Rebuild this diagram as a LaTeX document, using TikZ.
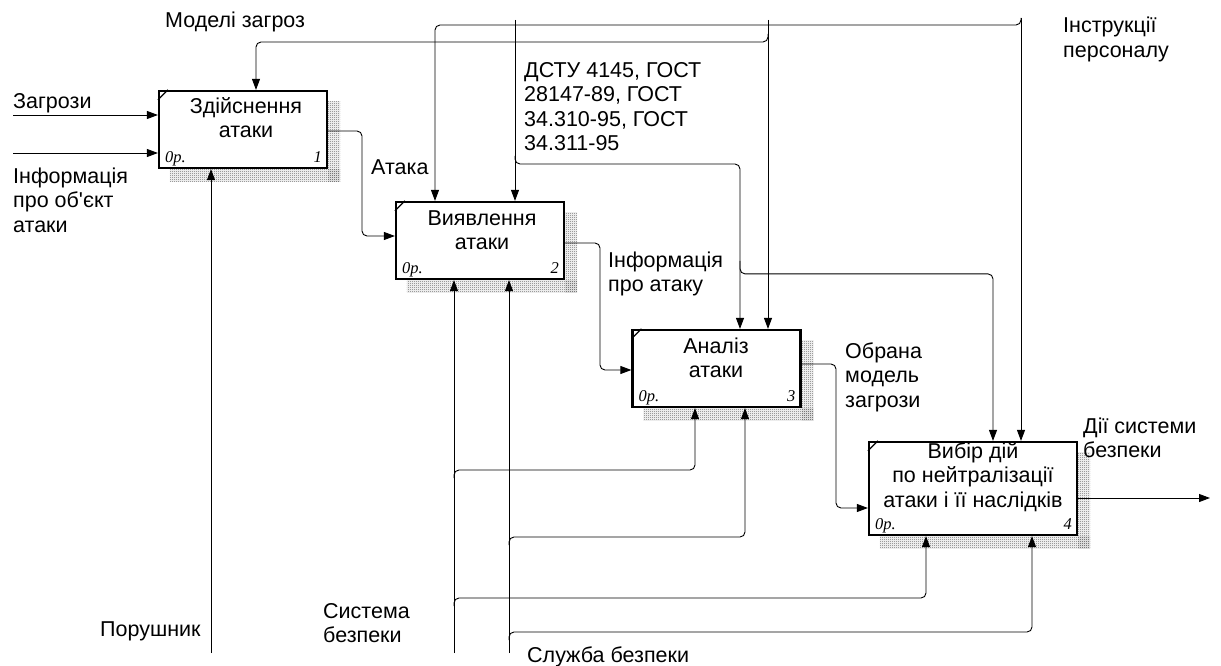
\documentclass[tikz,border=0pt]{standalone}
\usepackage{fontspec}
\setmainfont{Liberation Sans}
\newfontfamily\costfont{Liberation Serif}
\usetikzlibrary{arrows.meta,calc,patterns,backgrounds}

% fine checkerboard used for the block shadows
\pgfdeclarepatternformonly{checker}{\pgfpointorigin}{\pgfqpoint{2pt}{2pt}}{\pgfqpoint{2pt}{2pt}}{
  \pgfpathrectangle{\pgfpointorigin}{\pgfqpoint{1pt}{1pt}}
  \pgfpathrectangle{\pgfqpoint{1pt}{1pt}}{\pgfqpoint{1pt}{1pt}}
  \pgfusepath{fill}}

\begin{document}
\begin{tikzpicture}[x=1pt,y=-1pt,
  font=\fontsize{21.5}{24.5}\selectfont,
  func/.style={draw=black, line width=2.2pt, fill=white, inner sep=0pt},
  arr/.style={draw=black, line width=0.9pt, -{Triangle[length=11pt,width=8pt]}},
  rc/.style={rounded corners=5pt},
  % multi-line nodes: the base anchor sits on the last line
  lbl/.style={align=left, anchor=base west, inner sep=0pt},
  ftext/.style={align=center, anchor=base, inner sep=0pt},
  cost/.style={font=\costfont\itshape\fontsize{16.5}{16.5}\selectfont, anchor=base west, inner sep=0pt},
  num/.style={font=\costfont\itshape\fontsize{16.5}{16.5}\selectfont, anchor=base east, inner sep=0pt},
  shadowfill/.style={pattern=checker, pattern color=black!60}
]
\useasboundingbox (0,0) rectangle (1221,666);

% function blocks
\node[func, minimum width=168pt, minimum height=77pt] (b1) at (243,129.5) {};
\node[func, minimum width=168pt, minimum height=77pt] (b2) at (480,240.5) {};
\node[func, minimum width=168pt, minimum height=77pt] (b3) at (716.5,368.5) {};
\node[func, minimum width=208pt, minimum height=93pt] (b4) at (973,488.5) {};

\node[ftext] (t1) at (246,137.5) {Здійснення\\атаки};
\node[ftext] (t2) at (482,249.5) {Виявлення\\атаки};
\node[ftext] (t3) at (716,377.5) {Аналіз\\атаки};
\node[ftext] (t4) at (973,507) {Вибір дій\\по нейтралізації\\атаки і її наслідків};

\foreach \b/\n in {b1/1,b2/2,b3/3,b4/4} {
  \draw[line width=1.2pt] ($(\b.north west)+(0,10)$) -- ($(\b.north west)+(10,0)$);
  \node[cost] (c\n) at ($(\b.south west)+(7,-7)$) {0р.};
  \node[num] (n\n) at ($(\b.south east)+(-6,-7)$) {\n};
}

% hatched shadows behind the blocks
\begin{scope}[on background layer]
\foreach \b in {b1,b2,b3,b4} {
  \fill[shadowfill] ($(\b.south west)+(12,0)$) rectangle ($(\b.south east)+(12,12)$);
  \fill[shadowfill] ($(\b.north east)+(0,12)$) rectangle ($(\b.south east)+(12,12)$);
}
\end{scope}

% ports on the blocks
\coordinate (b1c) at ($(b1.north)+(13,0)$);
\coordinate (b1o) at ($(b1.east)+(0,1.5)$);
\coordinate (b2i) at ($(b2.west)+(0,-4.5)$);
\coordinate (b2c1) at ($(b2.north)+(-45,0)$);
\coordinate (b2o) at ($(b2.east)+(0,2.5)$);
\coordinate (b3i) at ($(b3.west)+(0,1.5)$);
\coordinate (b3c1) at ($(b3.north)+(23.5,0)$);
\coordinate (b3o) at ($(b3.east)+(0,-4.5)$);
\coordinate (b3m1) at ($(b3.south)+(-21.5,0)$);
\coordinate (b3m2) at ($(b3.south)+(28.5,0)$);
\coordinate (b4i) at ($(b4.west)+(0,19.5)$);
\coordinate (b4c1) at ($(b4.north)+(20,0)$);
\coordinate (b4o) at ($(b4.east)+(0,9.5)$);
\coordinate (b4m1) at ($(b4.south)+(-47,0)$);
\coordinate (b4m2) at ($(b4.south)+(59,0)$);

% free ends at the border
\coordinate (sThr) at (13,115);
\coordinate (sInf) at (13,153);
\coordinate (sMod) at (768,20);
\coordinate (sStd) at (515,20);
\coordinate (sIns) at (1021,18);
\coordinate (sPor) at (211,653);
\coordinate (sSys) at (454,653);
\coordinate (sSl) at (509,653);
\coordinate (oAct) at (1210,498);

% inputs
\draw[arr] (sThr) -- (sThr -| b1.west);
\draw[arr] (sInf) -- (sInf -| b1.west);

% controls
\draw[arr] (sMod) -- (sMod |- b3.north);
\draw[arr,rc] (sMod) ++(0,14) -- ++(0,8) -| (b1c);
\draw[arr] (sIns) -- (sIns |- b4.north);
\draw[arr,rc] (sIns) -- ++(0,7) -| (b2c1);
\draw[arr] (sStd) -- (sStd |- b2.north);
\draw[arr,rc] (sStd) ++(0,136) -- ++(0,8) -| (b3c1);
\draw[arr,rc] (b3c1) ++(0,-68) -- ++(0,13) -| (b4c1);

% mechanisms
\draw[arr] (sPor) -- (sPor |- b1.south);
\draw[arr] (sSys) -- (sSys |- b2.south);
\draw[arr] (sSl) -- (sSl |- b2.south);
\draw[arr,rc] (sSys) ++(0,-175) -- ++(0,-8) -| (b3m1);
\draw[arr,rc] (sSys) ++(0,-47) -- ++(0,-8) -| (b4m1);
\draw[arr,rc] (sSl) ++(0,-108) -- ++(0,-8) -| (b3m2);
\draw[arr,rc] (sSl) ++(0,-13) -- ++(0,-8) -| (b4m2);

% outputs
\draw[arr,rc] (b1o) -| (362,0 |- b2i) -- (b2i);
\draw[arr,rc] (b2o) -| (600,0 |- b3i) -- (b3i);
\draw[arr,rc] (b3o) -| (836,0 |- b4i) -- (b4i);
\draw[arr] (b4o) -- (b4o -| oAct);

% arrow labels
\node[lbl] (lMod) at (165,28) {Моделі загроз};
\node[lbl] (lThr) at (13,109) {Загрози};
\node[lbl] (lInf) at (13,232) {Інформація\\про об\textquotesingle єкт\\атаки};
\node[lbl] (lAtk) at (371,175) {Атака};
\node[lbl] (lStd) at (524,150.5) {ДСТУ 4145, ГОСТ\\28147-89, ГОСТ\\34.310-95, ГОСТ\\34.311-95};
\node[lbl] (lIns) at (1063,57.5) {Інструкції\\персоналу};
\node[lbl] (lIna) at (608,291.5) {Інформація\\про атаку};
\node[lbl] (lSel) at (845,407) {Обрана\\модель\\загрози};
\node[lbl] (lAct) at (1083,457.5) {Дії системи\\безпеки};
\node[lbl] (lSys) at (323,642.5) {Система\\безпеки};
\node[lbl] (lSl) at (527,662) {Служба безпеки};
\node[lbl] (lPor) at (100,636) {Порушник};
\end{tikzpicture}
\end{document}
